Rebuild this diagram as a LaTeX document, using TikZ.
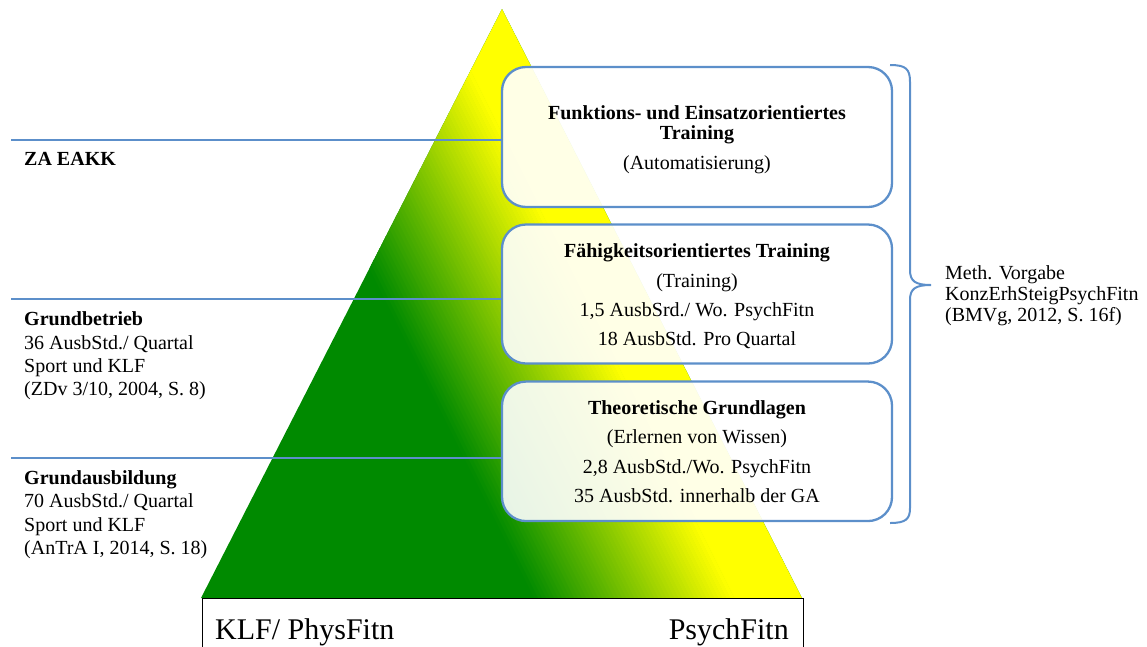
\documentclass[tikz,border=0pt]{standalone}
\usepackage{fontspec}
\setmainfont{Liberation Serif}
\definecolor{accent}{RGB}{92,143,202}
\definecolor{pgreen}{RGB}{0,138,0}
\definecolor{pyellow}{RGB}{255,255,0}
\begin{document}
\begin{tikzpicture}[x=1pt,y=-1pt,
  txt/.style={inner sep=0pt, font=\fontsize{20}{24}\selectfont},
  ttl/.style={inner sep=0pt, font=\fontsize{20}{24}\selectfont\bfseries},
  big/.style={inner sep=0pt, font=\fontsize{30}{34}\selectfont},
  conn/.style={draw=accent, line width=2pt},
  stage/.style={draw=accent, line width=2.3pt, rounded corners=24pt,
    fill=white, fill opacity=0.9, minimum width=390pt, inner sep=0pt},
  basebox/.style={draw=black, line width=1.3pt, minimum width=601pt,
    minimum height=80pt, inner sep=0pt, anchor=north west}]

\clip (0,0) rectangle (1147,646);

% pyramid with a slanted green-to-yellow gradient
\begin{scope}
  \clip (502,9) -- (201,598) -- (802,598) -- cycle;
  \fill[pgreen] (150,0) rectangle (850,600);
  \fill[pyellow] (735,600) -- (1000,600) -- (1000,0) -- (435,0) -- cycle;
  \foreach \i in {0,...,49} {
    \pgfmathsetmacro\a{535+4*\i}
    \pgfmathsetmacro\b{\a+4.6}
    \pgfmathsetmacro\p{99-2*\i}
    \fill[pgreen!\p!pyellow] (\a,600) -- (\b,600) -- ({\b-300},0) -- ({\a-300},0) -- cycle;
  }
\end{scope}

% base label box
\node[basebox] (base) at (202,598) {};
\node[big, anchor=base west] (klf) at (215,639) {KLF/ PhysFitn};
\node[big, anchor=base east] (psy) at (789,639) {PsychFitn};

% stage boxes
\node[stage, minimum height=140pt] (b1) at (697,137) {};
\node[stage, minimum height=139pt] (b2) at (697,294) {};
\node[stage, minimum height=139.5pt] (b3) at (697,451.3) {};

% level lines
\coordinate (l1) at (11,140);
\coordinate (l2) at (11,299);
\coordinate (l3) at (11,458);
\draw[conn] (l1) -- (l1 -| b1.west);
\draw[conn] (l2) -- (l2 -| b2.west);
\draw[conn] (l3) -- (l3 -| b3.west);

% texts of the stage boxes
\node[ttl, anchor=base] (b1a) at (697,119) {Funktions- und Einsatzorientiertes};
\node[ttl, anchor=base] (b1b) at (697,139) {Training};
\node[txt, anchor=base] (b1c) at (697,169) {(Automatisierung)};

\node[ttl, anchor=base] (b2a) at (697,257.5) {Fähigkeitsorientiertes Training};
\node[txt, anchor=base] (b2b) at (697,287) {(Training)};
\node[txt, anchor=base] (b2c) at (697,316) {1,5 AusbSrd./ Wo. PsychFitn};
\node[txt, anchor=base] (b2d) at (697,345.5) {18 AusbStd. Pro Quartal};

\node[ttl, anchor=base] (b3a) at (697,414) {Theoretische Grundlagen};
\node[txt, anchor=base] (b3b) at (697,443.5) {(Erlernen von Wissen)};
\node[txt, anchor=base] (b3c) at (697,473) {2,8 AusbStd./Wo. PsychFitn};
\node[txt, anchor=base] (b3d) at (697,502.5) {35 AusbStd. innerhalb der GA};

% texts of the levels
\node[ttl, anchor=base west] (za) at (24,165.5) {ZA EAKK};

\node[ttl, anchor=base west] (gb1) at (24,325.5) {Grundbetrieb};
\node[txt, anchor=base west] (gb2) at (24,349) {36 AusbStd./ Quartal};
\node[txt, anchor=base west] (gb3) at (24,372.3) {Sport und KLF};
\node[txt, anchor=base west] (gb4) at (24,395.7) {(ZDv 3/10, 2004, S. 8)};

\node[ttl, anchor=base west] (ga1) at (24,484.3) {Grundausbildung};
\node[txt, anchor=base west] (ga2) at (24,507.6) {70 AusbStd./ Quartal};
\node[txt, anchor=base west] (ga3) at (24,531) {Sport und KLF};
\node[txt, anchor=base west] (ga4) at (24,554.3) {(AnTrA I, 2014, S. 18)};

% brace grouping the stages
\coordinate (btop) at (890,65);
\coordinate (btip) at (931,285);
\coordinate (bbot) at (890,523);
\draw[accent, line width=2pt] (btop) .. controls (906,65) and (910,69) .. (910,82)
  -- (910,270) .. controls (910,281) and (915,285) .. (btip)
  .. controls (915,285) and (910,289) .. (910,300)
  -- (910,508) .. controls (910,519) and (906,523) .. (bbot);

\node[txt, anchor=base west] (m1) at (945,279) {Meth. Vorgabe};
\node[txt, anchor=base west] (m2) at (945,300.5) {KonzErhSteigPsychFitn};
\node[txt, anchor=base west] (m3) at (945,321.5) {(BMVg, 2012, S. 16f)};
\end{tikzpicture}
\end{document}
